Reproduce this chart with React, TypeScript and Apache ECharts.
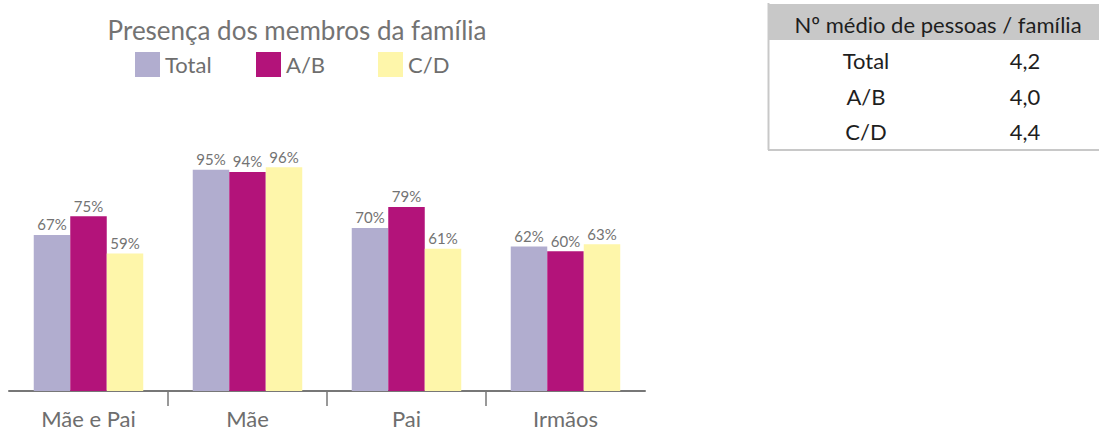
import React, { useEffect, useRef } from "react";
import * as echarts from "echarts";

const categories = ["Mãe e Pai", "Mãe", "Pai", "Irmãos"];
const seriesNames = ["Total", "A/B", "C/D"];
const totalValues = [67, 95, 70, 62];
const abValues = [75, 94, 79, 60];
const cdValues = [59, 96, 61, 63];
const colors = ["#b1adcf", "#b3137a", "#fef6aa"];

const tableHeader = "Nº médio de pessoas / família";
const tableLabels = ["Total", "A/B", "C/D"];
const tableValues = ["4,2", "4,0", "4,4"];

const FONT = "Lato, 'Open Sans', sans-serif";

export default function App() {
  const ref = useRef<HTMLDivElement>(null);
  useEffect(() => {
    if (!ref.current) return;
    const chart = echarts.init(ref.current, null, { renderer: "svg" });
    const seriesData = [totalValues, abValues, cdValues];
    const rowYs = [60, 96, 131];
    const legendLefts = [130, 251, 373];
    const graphic: any[] = [
      {
        type: "text",
        x: 297,
        y: 30,
        style: {
          text: "Presença dos membros da família",
          fill: "#737373",
          font: `26px ${FONT}`,
          align: "center",
          verticalAlign: "middle",
        },
      },
      {
        type: "rect",
        shape: { x: 768, y: 4, width: 331, height: 36 },
        style: { fill: "#c8c8c8" },
      },
      {
        type: "line",
        shape: { x1: 768.5, y1: 3, x2: 768.5, y2: 150 },
        style: { stroke: "#c8c8c8", lineWidth: 2 },
      },
      {
        type: "line",
        shape: { x1: 768, y1: 150, x2: 1099, y2: 150 },
        style: { stroke: "#c8c8c8", lineWidth: 2 },
      },
      {
        type: "text",
        x: 938,
        y: 24,
        style: {
          text: tableHeader,
          fill: "#1e1e1e",
          font: `22px ${FONT}`,
          align: "center",
          verticalAlign: "middle",
        },
      },
    ];
    tableLabels.forEach((lab, i) => {
      graphic.push({
        type: "text",
        x: 866,
        y: rowYs[i],
        style: {
          text: lab,
          fill: "#1e1e1e",
          font: `22px ${FONT}`,
          align: "center",
          verticalAlign: "middle",
        },
      });
      graphic.push({
        type: "text",
        x: 1025,
        y: rowYs[i],
        style: {
          text: tableValues[i],
          fill: "#1e1e1e",
          font: `22px ${FONT}`,
          align: "center",
          verticalAlign: "middle",
        },
      });
    });

    chart.setOption({
      animation: false,
      textStyle: { fontFamily: FONT },
      legend: seriesNames.map((name, i) => ({
        left: legendLefts[i],
        top: 47,
        itemWidth: 25,
        itemHeight: 25,
        icon: "rect",
        data: [name],
        textStyle: { fontSize: 22, color: "#6e6e6e", fontFamily: FONT },
      })),
      grid: { left: 9, width: 636, top: 158, bottom: 43 },
      xAxis: [
        {
          type: "category",
          data: categories,
          axisLine: { lineStyle: { color: "#777777", width: 2 } },
          axisTick: { show: false },
          axisLabel: { fontSize: 22, color: "#6e6e6e", margin: 16, fontFamily: FONT },
        },
        {
          type: "value",
          min: 0,
          max: 4,
          position: "bottom",
          axisLine: { show: false },
          axisLabel: { show: false },
          splitLine: { show: false },
          axisTick: {
            show: true,
            length: 15,
            customValues: [1, 2, 3],
            lineStyle: { color: "#777777", width: 1.5 },
          },
        },
      ],
      yAxis: {
        type: "value",
        min: 0,
        max: 100,
        show: false,
        splitLine: { show: false },
      },
      series: seriesNames.map((name, i) => ({
        name,
        type: "bar",
        xAxisIndex: 0,
        data: seriesData[i],
        barWidth: 36.5,
        barGap: "0%",
        itemStyle: { color: colors[i] },
        label: {
          show: true,
          position: "top",
          distance: 3,
          formatter: "{c}%",
          fontSize: 15,
          color: "#737373",
          fontFamily: FONT,
        },
      })),
      graphic,
    });
    return () => chart.dispose();
  }, []);
  return (
    <div
      ref={ref}
      style={{ position: "fixed", left: 0, top: 0, width: 1099, height: 434, background: "#fff" }}
    />
  );
}
